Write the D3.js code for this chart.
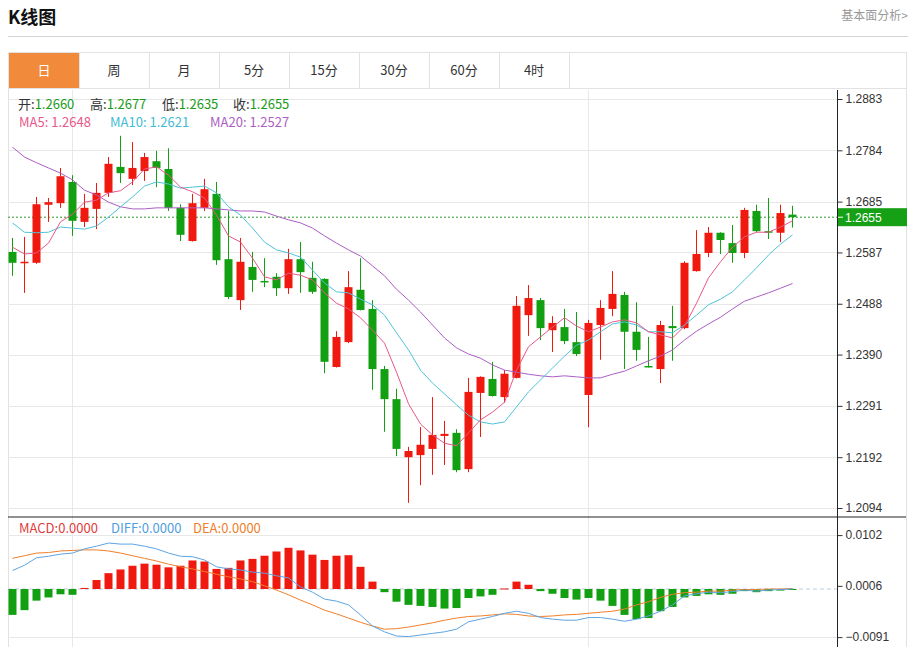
<!DOCTYPE html>
<html>
<head>
<meta charset="utf-8">
<script src="https://cdn.jsdelivr.net/npm/d3@7"></script>
<style>
  body { margin: 0; background: #fff; }
  svg { display: block; font-family: "Microsoft YaHei", "Noto Sans CJK SC", sans-serif; }
</style>
</head>
<body>
<svg id="kline" width="913" height="647"></svg>
<script>
// daily candles, oldest first
const open = [1.2588, 1.2567, 1.2567, 1.2679, 1.2682, 1.2723, 1.2646, 1.2671, 1.2702, 1.2752,
  1.2729, 1.2744, 1.2763, 1.2748, 1.2673, 1.2609, 1.2673, 1.2700, 1.2574, 1.2495,
  1.2559, 1.2532, 1.2540, 1.2518, 1.2574, 1.2538, 1.2536, 1.2366, 1.2414, 1.2515,
  1.2478, 1.2362, 1.2304, 1.2192, 1.2196, 1.2208, 1.2233, 1.2239, 1.2169, 1.2316,
  1.2343, 1.2308, 1.2345, 1.2466, 1.2495, 1.2437, 1.2443, 1.2414, 1.2312, 1.2447,
  1.2478, 1.2505, 1.2434, 1.2368, 1.2362, 1.2445, 1.2441, 1.2551, 1.2586, 1.2625,
  1.2605, 1.2586, 1.2667, 1.2628, 1.2625, 1.2660];
const high = [1.2615, 1.2617, 1.2694, 1.2692, 1.2750, 1.2736, 1.2700, 1.2721, 1.2771, 1.2812,
  1.2800, 1.2779, 1.2783, 1.2788, 1.2680, 1.2700, 1.2729, 1.2723, 1.2667, 1.2615,
  1.2588, 1.2576, 1.2547, 1.2594, 1.2607, 1.2569, 1.2537, 1.2435, 1.2551, 1.2576,
  1.2495, 1.2368, 1.2324, 1.2212, 1.2250, 1.2308, 1.2262, 1.2246, 1.2345, 1.2348,
  1.2376, 1.2360, 1.2503, 1.2524, 1.2499, 1.2464, 1.2478, 1.2472, 1.2457, 1.2495,
  1.2551, 1.2511, 1.2491, 1.2424, 1.2455, 1.2484, 1.2570, 1.2630, 1.2636, 1.2626,
  1.2640, 1.2673, 1.2679, 1.2692, 1.2679, 1.2677];
const low = [1.2542, 1.2509, 1.2565, 1.2646, 1.2673, 1.2619, 1.2636, 1.2632, 1.2694, 1.2721,
  1.2717, 1.2725, 1.2713, 1.2667, 1.2609, 1.2608, 1.2667, 1.2563, 1.2497, 1.2476,
  1.2511, 1.2520, 1.2503, 1.2507, 1.2509, 1.2507, 1.2354, 1.2365, 1.2412, 1.2475,
  1.2322, 1.2241, 1.2194, 1.2104, 1.2138, 1.2158, 1.2177, 1.2163, 1.2163, 1.2231,
  1.2309, 1.2297, 1.2344, 1.2426, 1.2418, 1.2395, 1.2410, 1.2387, 1.2250, 1.2380,
  1.2464, 1.2362, 1.2378, 1.2365, 1.2335, 1.2378, 1.2439, 1.2550, 1.2578, 1.2584,
  1.2567, 1.2576, 1.2626, 1.2613, 1.2607, 1.2635];
const close = [1.2567, 1.2569, 1.2680, 1.2684, 1.2734, 1.2648, 1.2673, 1.2702, 1.2758, 1.2740,
  1.2750, 1.2771, 1.2750, 1.2673, 1.2621, 1.2682, 1.2709, 1.2572, 1.2501, 1.2569,
  1.2534, 1.2530, 1.2518, 1.2574, 1.2549, 1.2511, 1.2376, 1.2424, 1.2520, 1.2476,
  1.2362, 1.2304, 1.2208, 1.2204, 1.2216, 1.2235, 1.2237, 1.2167, 1.2318, 1.2347,
  1.2310, 1.2353, 1.2484, 1.2499, 1.2441, 1.2451, 1.2416, 1.2391, 1.2451, 1.2480,
  1.2507, 1.2434, 1.2399, 1.2366, 1.2447, 1.2441, 1.2567, 1.2584, 1.2625, 1.2611,
  1.2586, 1.2669, 1.2628, 1.2625, 1.2663, 1.2655];

const ma5 = [1.2597, 1.2584, 1.2586, 1.2605, 1.2646, 1.2661, 1.2684, 1.2688, 1.2702, 1.2706,
  1.2723, 1.2748, 1.2752, 1.2736, 1.2713, 1.2704, 1.2692, 1.2659, 1.2619, 1.2607,
  1.2576, 1.2540, 1.2534, 1.2547, 1.2543, 1.2534, 1.2509, 1.2489, 1.2478, 1.2461,
  1.2437, 1.2412, 1.2356, 1.2295, 1.2256, 1.2235, 1.2219, 1.2214, 1.2239, 1.2264,
  1.2279, 1.2298, 1.2360, 1.2405, 1.2424, 1.2443, 1.2461, 1.2445, 1.2434, 1.2443,
  1.2453, 1.2457, 1.2451, 1.2434, 1.2428, 1.2422, 1.2445, 1.2489, 1.2538, 1.2569,
  1.2597, 1.2617, 1.2626, 1.2626, 1.2636, 1.2648];
const ma10 = [1.2644, 1.2626, 1.2625, 1.2626, 1.2636, 1.2634, 1.2632, 1.2638, 1.2655, 1.2675,
  1.2694, 1.2715, 1.2723, 1.2719, 1.2711, 1.2713, 1.2715, 1.2702, 1.2675, 1.2659,
  1.2634, 1.2607, 1.2592, 1.2586, 1.2578, 1.2553, 1.2528, 1.2511, 1.2509, 1.2497,
  1.2486, 1.2466, 1.2432, 1.2399, 1.2360, 1.2335, 1.2314, 1.2293, 1.2273, 1.2260,
  1.2256, 1.2260, 1.2289, 1.2318, 1.2341, 1.2364, 1.2387, 1.2408, 1.2418, 1.2434,
  1.2449, 1.2453, 1.2447, 1.2434, 1.2434, 1.2432, 1.2447, 1.2466, 1.2486, 1.2497,
  1.2511, 1.2534, 1.2557, 1.2582, 1.2603, 1.2621];
const ma20 = [1.2790, 1.2771, 1.2760, 1.2750, 1.2740, 1.2727, 1.2707, 1.2698, 1.2684, 1.2675,
  1.2671, 1.2671, 1.2673, 1.2673, 1.2673, 1.2673, 1.2673, 1.2671, 1.2669, 1.2667,
  1.2667, 1.2665, 1.2657, 1.2650, 1.2644, 1.2634, 1.2619, 1.2605, 1.2592, 1.2580,
  1.2561, 1.2542, 1.2516, 1.2495, 1.2472, 1.2447, 1.2422, 1.2403, 1.2391, 1.2383,
  1.2370, 1.2360, 1.2356, 1.2352, 1.2349, 1.2347, 1.2349, 1.2347, 1.2345, 1.2345,
  1.2352, 1.2358, 1.2368, 1.2378, 1.2387, 1.2399, 1.2418, 1.2435, 1.2449, 1.2462,
  1.2478, 1.2493, 1.2501, 1.2509, 1.2518, 1.2527];

const macd = [-0.0049, -0.0040, -0.0022, -0.0016, -0.0010, -0.0011, 0.0002, 0.0017, 0.0030, 0.0037,
  0.0044, 0.0048, 0.0046, 0.0041, 0.0044, 0.0054, 0.0052, 0.0038, 0.0040, 0.0054,
  0.0057, 0.0063, 0.0071, 0.0078, 0.0073, 0.0065, 0.0055, 0.0063, 0.0064, 0.0042,
  0.0014, -0.0006, -0.0024, -0.0030, -0.0032, -0.0034, -0.0037, -0.0036, -0.0017, -0.0014,
  -0.0011, 0.0001, 0.0014, 0.0008, -0.0004, -0.0009, -0.0017, -0.0020, -0.0017, -0.0022,
  -0.0032, -0.0049, -0.0057, -0.0055, -0.0042, -0.0034, -0.0016, -0.0013, -0.0010, -0.0011,
  -0.0009, -0.0004, -0.0006, -0.0004, -0.0003, -0.0001];
const diff = [0.0035, 0.0045, 0.0059, 0.0062, 0.0066, 0.0068, 0.0076, 0.0081, 0.0087, 0.0085,
  0.0085, 0.0081, 0.0076, 0.0068, 0.0062, 0.0061, 0.0055, 0.0042, 0.0038, 0.0036,
  0.0032, 0.0030, 0.0025, 0.0021, 0.0004, -0.0006, -0.0019, -0.0023, -0.0030, -0.0049,
  -0.0070, -0.0081, -0.0089, -0.0090, -0.0087, -0.0084, -0.0081, -0.0076, -0.0062, -0.0057,
  -0.0052, -0.0046, -0.0042, -0.0046, -0.0054, -0.0057, -0.0059, -0.0059, -0.0054, -0.0054,
  -0.0057, -0.0061, -0.0057, -0.0051, -0.0042, -0.0030, -0.0013, -0.0009, -0.0006, -0.0007,
  -0.0005, -0.0002, -0.0004, -0.0002, -0.0001, 0.0000];
const dea = [0.0058, 0.0063, 0.0068, 0.0069, 0.0072, 0.0073, 0.0074, 0.0074, 0.0072, 0.0068,
  0.0063, 0.0058, 0.0053, 0.0047, 0.0042, 0.0038, 0.0033, 0.0028, 0.0023, 0.0019,
  0.0014, 0.0006, -0.0002, -0.0011, -0.0021, -0.0030, -0.0040, -0.0047, -0.0055, -0.0063,
  -0.0070, -0.0076, -0.0075, -0.0072, -0.0068, -0.0064, -0.0059, -0.0055, -0.0052, -0.0051,
  -0.0049, -0.0047, -0.0048, -0.0051, -0.0052, -0.0051, -0.0049, -0.0048, -0.0046, -0.0044,
  -0.0042, -0.0038, -0.0030, -0.0024, -0.0016, -0.0010, -0.0007, -0.0006, -0.0004, -0.0004,
  -0.0002, -0.0001, -0.0001, 0.0000, 0.0000, 0.0001];

const priceTicks = [1.2094, 1.2192, 1.2291, 1.2390, 1.2488, 1.2587, 1.2685, 1.2784, 1.2883];
const macdTicks = [0.0102, 0.0006, -0.0091];
const tabs = ['日', '周', '月', '5分', '15分', '30分', '60分', '4时'];
const lastPrice = 1.2655;

const RED = '#f0190f', GREEN = '#12a012';
const left = 8, right = 837, outerRight = 906;

var svg = d3.select('#kline');

// header
svg.append('text').attr('x', 8).attr('y', 24).text('K线图')
  .attr('style', 'font-size: 18px; font-weight: bold; fill: #111');
svg.append('text').attr('x', 908).attr('y', 20).attr('text-anchor', 'end').text('基本面分析>')
  .attr('style', 'font-size: 12px; fill: #999');
svg.append('line').attr('x1', 8).attr('x2', 908).attr('y1', 36.5).attr('y2', 36.5).attr('stroke', '#d4d4d4');

// tabs
svg.append('rect').attr('x', 8.5).attr('y', 52.5).attr('width', outerRight - 8).attr('height', 36)
  .attr('fill', 'none').attr('stroke', '#e2e2e2');
tabs.forEach((t, i) => {
  let tx = 9 + i * 70;
  if (i === 0) svg.append('rect').attr('x', tx).attr('y', 53).attr('width', 70).attr('height', 35).attr('fill', '#f28a3b');
  svg.append('line').attr('x1', tx + 70.5).attr('x2', tx + 70.5).attr('y1', 53).attr('y2', 88).attr('stroke', '#e2e2e2');
  svg.append('text').attr('x', tx + 35).attr('y', 75).attr('text-anchor', 'middle').text(t)
    .attr('style', `font-size: 13px; fill: ${i === 0 ? '#fff' : '#333'}`);
});

// frame
svg.append('line').attr('x1', left + 0.5).attr('x2', left + 0.5).attr('y1', 88).attr('y2', 647).attr('stroke', '#e2e2e2');
svg.append('line').attr('x1', outerRight + 0.5).attr('x2', outerRight + 0.5).attr('y1', 52).attr('y2', 647).attr('stroke', '#e2e2e2');

// scales
var x = d3.scaleLinear().domain([0, 65]).range([12, 792]);
var yP = d3.scaleLinear().domain([1.2094, 1.2883]).range([508, 99]);
var yM = d3.scaleLinear().domain([-0.0091, 0.0102]).range([637.1, 535.1]);

// grid
var grid = svg.append('g').attr('stroke', '#e8e8e8').attr('stroke-width', 1);
priceTicks.forEach(t => {
  grid.append('line').attr('x1', left).attr('x2', right).attr('y1', Math.round(yP(t)) + 0.5).attr('y2', Math.round(yP(t)) + 0.5);
});
[macdTicks[0], macdTicks[2]].forEach(t => {
  grid.append('line').attr('x1', left).attr('x2', right).attr('y1', Math.round(yM(t)) + 0.5).attr('y2', Math.round(yM(t)) + 0.5);
});
[5, 48].forEach(i => {
  grid.append('line').attr('x1', x(i) + 0.5).attr('x2', x(i) + 0.5).attr('y1', 90).attr('y2', 647);
});

// last price line
svg.append('line').attr('x1', left).attr('x2', right).attr('y1', yP(lastPrice)).attr('y2', yP(lastPrice))
  .attr('stroke', '#2a9a2a').attr('stroke-dasharray', '2,2');

// candles
var idx = d3.range(open.length);
var candles = svg.append('g').selectAll('g').data(idx).enter().append('g');
candles.append('line')
  .attr('x1', i => x(i) + 0.5).attr('x2', i => x(i) + 0.5)
  .attr('y1', i => yP(high[i])).attr('y2', i => yP(low[i]))
  .attr('stroke', i => close[i] >= open[i] ? RED : GREEN);
candles.append('rect')
  .attr('x', i => x(i) - 3.5)
  .attr('y', i => yP(Math.max(open[i], close[i])))
  .attr('width', 8)
  .attr('height', i => Math.max(1.5, Math.abs(yP(open[i]) - yP(close[i]))))
  .attr('fill', i => close[i] >= open[i] ? RED : GREEN);

// moving averages
function drawLine(values, scale, color) {
  svg.append('path')
    .datum(values)
    .attr('fill', 'none')
    .attr('stroke', color)
    .attr('stroke-width', 1)
    .attr('d', d3.line().x((d, i) => x(i) + 0.5).y(d => scale(d)));
}
drawLine(ma20, yP, '#ac5ec4');
drawLine(ma10, yP, '#4ec3d8');
drawLine(ma5, yP, '#e8588a');

// MACD zero line
svg.append('line').attr('x1', left).attr('x2', right).attr('y1', yM(0)).attr('y2', yM(0))
  .attr('stroke', '#b8cfe0').attr('stroke-dasharray', '4,3');

// MACD bars
svg.append('g').selectAll('rect').data(idx).enter().append('rect')
  .attr('x', i => x(i) - 3.5)
  .attr('y', i => Math.min(yM(0), yM(macd[i])))
  .attr('width', 8)
  .attr('height', i => Math.max(1, Math.abs(yM(macd[i]) - yM(0))))
  .attr('fill', i => macd[i] >= 0 ? RED : GREEN);

drawLine(dea, yM, '#f07f2c');
drawLine(diff, yM, '#5ea4e2');

// panel separator
svg.append('line').attr('x1', left).attr('x2', outerRight).attr('y1', 517).attr('y2', 517).attr('stroke', '#222');

// right axes
var axisP = svg.append('g').attr('class', 'y axis').attr('transform', `translate(${right + 0.5},0)`)
  .call(d3.axisRight(yP).tickValues(priceTicks).tickSize(5).tickFormat(d3.format('.4f')));
var axisM = svg.append('g').attr('class', 'y axis').attr('transform', `translate(${right + 0.5},0)`)
  .call(d3.axisRight(yM).tickValues(macdTicks).tickSize(5).tickFormat(d3.format('.4f')));
[axisP, axisM].forEach(a => {
  a.select('.domain').remove();
  a.selectAll('text').attr('style', 'font-family: "Liberation Sans", Arial, sans-serif; font-size: 12px; fill: #333');
  a.selectAll('line').attr('stroke', '#333');
});
svg.append('line').attr('x1', right + 0.5).attr('x2', right + 0.5).attr('y1', 90).attr('y2', 647).attr('stroke', '#222');

// last price tag
var yl = yP(lastPrice);
svg.append('rect').attr('x', right + 1).attr('y', yl - 9).attr('width', outerRight - right).attr('height', 18).attr('fill', '#15a015');
svg.append('line').attr('x1', right + 1).attr('x2', right + 6).attr('y1', yl).attr('y2', yl).attr('stroke', '#fff');
svg.append('text').attr('x', right + 8).attr('y', yl + 4.5).text(d3.format('.4f')(lastPrice))
  .attr('style', 'font-family: "Liberation Sans", Arial, sans-serif; font-size: 12px; fill: #fff');

// legends
function legend(y, items) {
  var t = svg.append('text').attr('x', 18).attr('y', y).attr('style', 'font-size: 13px');
  items.forEach(it => {
    t.append('tspan').attr('x', it.x).text(it.label).attr('fill', it.labelColor || it.color);
    t.append('tspan').text(it.value).attr('fill', it.color);
  });
}
const fmt = d3.format('.4f');
var n = open.length - 1;
legend(109, [
  { x: 18, label: '开:', labelColor: '#333', value: fmt(open[n]), color: '#1a9a1a' },
  { x: 90, label: '高:', labelColor: '#333', value: fmt(high[n]), color: '#1a9a1a' },
  { x: 162, label: '低:', labelColor: '#333', value: fmt(low[n]), color: '#1a9a1a' },
  { x: 233, label: '收:', labelColor: '#333', value: fmt(close[n]), color: '#1a9a1a' }
]);
legend(127, [
  { x: 19, label: 'MA5: ', value: fmt(ma5[n]), color: '#e8588a' },
  { x: 110, label: 'MA10: ', value: fmt(ma10[n]), color: '#3fbcd4' },
  { x: 210, label: 'MA20: ', value: fmt(ma20[n]), color: '#ac5ec4' }
]);
legend(533, [
  { x: 19, label: 'MACD:', value: '0.0000', color: '#e03c3c' },
  { x: 111, label: 'DIFF:', value: '0.0000', color: '#4f9ee0' },
  { x: 193, label: 'DEA:', value: '0.0000', color: '#f07f2c' }
]);
</script>
</body>
</html>
